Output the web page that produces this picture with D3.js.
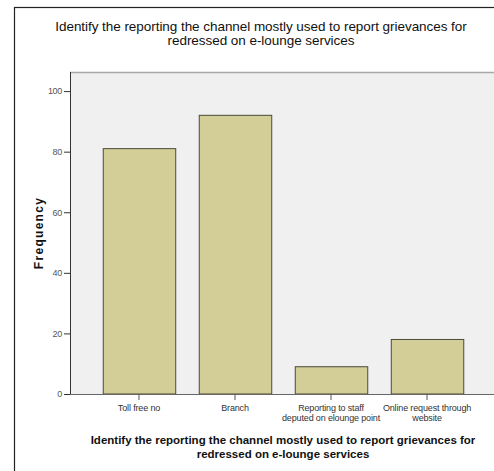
<!DOCTYPE html>
<html><head><meta charset="utf-8">
<script src="https://cdn.jsdelivr.net/npm/d3@7"></script>
<style>body{margin:0;background:#fff}svg{display:block}text{font-family:"Liberation Sans",Arial,sans-serif}</style>
</head><body>
<script>
const categories = ["Toll free no", "Branch", "Reporting to staff|deputed on elounge point", "Online request through|website"];
const frequencies = [81, 92, 9, 18];
const yTicks = [0, 20, 40, 60, 80, 100];
const titleLines = ["Identify the reporting the channel mostly used to report grievances for", "redressed on e-lounge services"];

const W = 494, H = 471;
const svg = d3.select("body").append("svg").attr("width", W).attr("height", H);

// outer frame
svg.append("rect").attr("x", 14.5).attr("y", 7.5).attr("width", 500).attr("height", 500)
  .attr("fill", "#fff").attr("stroke", "#222").attr("stroke-width", 1.2);

const plot = {left: 70, right: 496, top: 72, bottom: 394};
const x = d3.scaleBand().domain(categories).range([plot.left, plot.right]).paddingInner(0.245).paddingOuter(0.341);
const y = d3.scaleLinear().domain([0, 106.3]).range([plot.bottom, plot.top]);

svg.append("rect").attr("x", plot.left).attr("y", plot.top).attr("width", plot.right - plot.left)
  .attr("height", plot.bottom - plot.top).attr("fill", "#f0f0f0");
svg.append("line").attr("x1", plot.left).attr("x2", plot.right).attr("y1", plot.top + 0.5).attr("y2", plot.top + 0.5)
  .attr("stroke", "#a8a8a8").attr("stroke-width", 1.5);

// bars
svg.selectAll("rect.bar").data(frequencies).enter().append("rect").attr("class", "bar")
  .attr("x", (d, i) => x(categories[i]) + 0.5)
  .attr("y", d => y(d))
  .attr("width", x.bandwidth())
  .attr("height", d => plot.bottom - y(d))
  .attr("fill", "#d3cd98").attr("stroke", "#4a4a3a").attr("stroke-width", 1);

// y axis
const yAxis = d3.axisLeft(y).tickValues(yTicks).tickSize(6).tickPadding(2);
const gy = svg.append("g").attr("transform", `translate(${plot.left},0)`).call(yAxis);
gy.select(".domain").attr("stroke", "#333").attr("d", `M0.5,${plot.top}V${plot.bottom}`);
gy.selectAll(".tick line").attr("stroke", "#333");
gy.selectAll(".tick text").attr("font-size", 9).attr("fill", "#555").attr("letter-spacing", -0.3)
  .attr("font-family", "Liberation Sans, Arial, sans-serif");

// x axis
const xAxis = d3.axisBottom(x).tickSize(6).tickFormat("");
const gx = svg.append("g").attr("transform", `translate(0,${plot.bottom})`).call(xAxis);
gx.select(".domain").attr("stroke", "#666").attr("d", `M${plot.left},0.5H${plot.right}`);
gx.selectAll(".tick line").attr("stroke", "#555");
gx.selectAll(".tick").each(function(d) {
  const lines = d.split("|");
  const t = d3.select(this).append("text").attr("text-anchor", "middle").attr("fill", "#333")
    .attr("font-size", 9).attr("letter-spacing", -0.15);
  lines.forEach((l, i) => t.append("tspan").attr("x", 0).attr("y", 17 + i * 10).text(l));
});

// title
titleLines.forEach((l, i) => {
  svg.append("text").attr("x", 261).attr("y", 31 + i * 14).attr("text-anchor", "middle")
    .attr("font-size", 13.5).attr("fill", "#111").attr("letter-spacing", -0.05).text(l);
});

// x axis title
titleLines.forEach((l, i) => {
  svg.append("text").attr("x", 283).attr("y", 444 + i * 13.5).attr("text-anchor", "middle")
    .attr("font-size", 11.5).attr("font-weight", "bold").attr("fill", "#111").text(l);
});

// y axis title
svg.append("text").attr("transform", `translate(43,233) rotate(-90)`).attr("text-anchor", "middle")
  .attr("font-size", 12).attr("font-weight", "bold").attr("fill", "#111").attr("letter-spacing", 1.3).text("Frequency");
</script>
</body></html>
